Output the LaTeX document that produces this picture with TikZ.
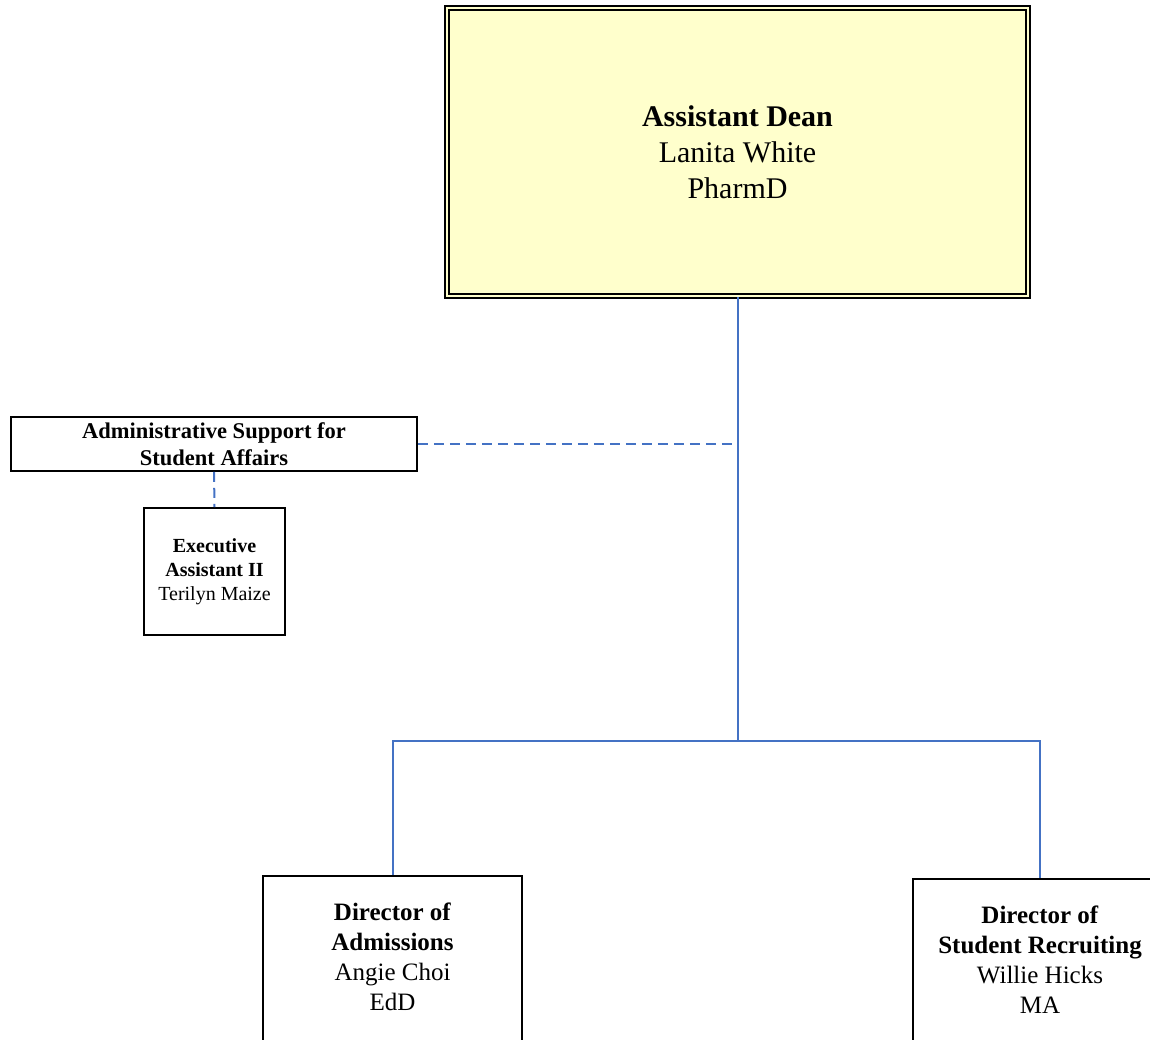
\documentclass[tikz,border=0pt]{standalone}
\usepackage{fontspec}
\setmainfont{Liberation Serif}
\usetikzlibrary{calc,positioning}
\definecolor{DeanYellow}{HTML}{FFFFCC}
\definecolor{LinkBlue}{HTML}{4472C4}

\tikzset{
  orgbox/.style={draw=black, line width=1.6pt, fill=white, inner sep=0pt, align=center},
  solidlink/.style={draw=LinkBlue, line width=2pt},
  dashlink/.style={draw=LinkBlue, line width=2pt, dash pattern=on 10pt off 6pt}
}

\begin{document}
\begin{tikzpicture}[x=1pt,y=-1pt]
  \useasboundingbox (0,0) rectangle (1150,1039);
  \clip (0,0) rectangle (1150,1039);

  \node[
    draw=black,
    line width=2pt,
    double=DeanYellow,
    double distance=1.6pt,
    fill=DeanYellow,
    minimum width=581.4pt,
    minimum height=288.4pt,
    inner sep=0pt,
    align=center,
    font=\fontsize{30}{36}\selectfont
  ] (dean) at (737.5,152) {\textbf{Assistant Dean}\\Lanita White\\PharmD};

  \node[orgbox, minimum width=406pt, minimum height=54pt,
    font=\fontsize{22.5}{27}\selectfont\bfseries]
    (adminsupport) at (214,444) {Administrative Support for\\Student Affairs};

  \node[orgbox, minimum width=141pt, minimum height=127pt,
    font=\fontsize{20}{24}\selectfont]
    (execasst) at (214.5,571.5) {\textbf{Executive}\\\textbf{Assistant II}\\Terilyn Maize};

  \node[orgbox, minimum width=259pt, minimum height=177pt, text depth=16pt,
    font=\fontsize{25}{30}\selectfont]
    (diradm) at (392.5,964.5) {\textbf{Director of}\\\textbf{Admissions}\\Angie Choi\\EdD};

  \node[orgbox, minimum width=254pt, minimum height=177pt, text depth=16pt,
    font=\fontsize{25}{30}\selectfont]
    (dirrec) at (1040,967.5) {\textbf{Director of}\\\textbf{Student Recruiting}\\Willie Hicks\\MA};

  \coordinate (junc) at (737.5,741);

  \draw[solidlink] (dean.south) -- (junc);
  \draw[solidlink] (junc) -| (diradm.north);
  \draw[solidlink] (junc) -| (dirrec.north);
  \draw[dashlink] (adminsupport.east) -- (adminsupport.east -| junc);
  \draw[dashlink] (adminsupport.south) -- (execasst.north);
\end{tikzpicture}
\end{document}
